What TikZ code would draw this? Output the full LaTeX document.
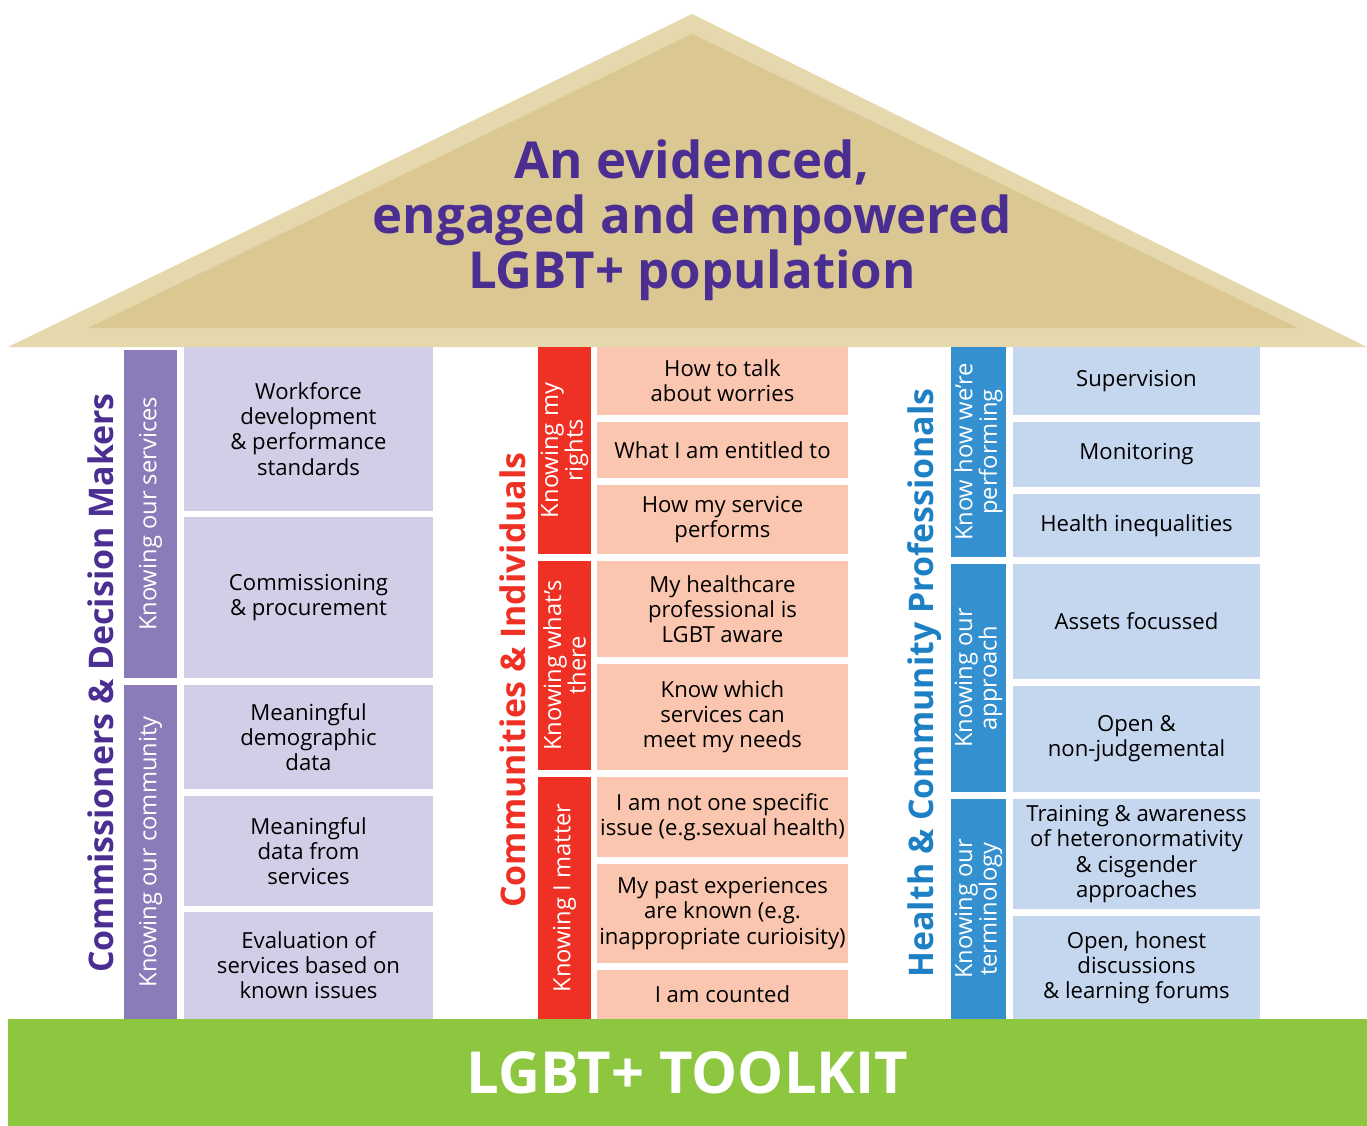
\documentclass[tikz,border=0pt]{standalone}
\usepackage{fontspec}
\setmainfont{Open Sans}
\usetikzlibrary{positioning}

\definecolor{roofOuter}{RGB}{230,216,173}
\definecolor{roofInner}{RGB}{219,199,146}
\definecolor{goalPurple}{RGB}{75,46,145}
\definecolor{cmStrip}{RGB}{140,123,185}
\definecolor{cmLight}{RGB}{211,206,231}
\definecolor{ciRed}{RGB}{238,49,36}
\definecolor{ciLight}{RGB}{250,198,175}
\definecolor{hpStrip}{RGB}{52,144,207}
\definecolor{hpText}{RGB}{30,128,196}
\definecolor{hpLight}{RGB}{197,215,239}
\definecolor{toolkitGreen}{RGB}{141,198,63}

\begin{document}
\begin{tikzpicture}[
  x=0.02cm, y=-0.02cm,
  every node/.style={font=\fontsize{12.6}{14.3}\selectfont, inner sep=0pt},
  wd/.style={minimum width=#1*0.02cm},
  ht/.style={minimum height=#1*0.02cm},
  cell/.style={align=center, text=black},
  cmcell/.style={cell, fill=cmLight, wd=249},
  cicell/.style={cell, fill=ciLight, wd=251},
  hpcell/.style={cell, fill=hpLight, wd=247},
  strip/.style={rotate=90, align=center, text=white,
                font=\fontsize{13.5}{14}\selectfont},
  cmstrip/.style={strip, fill=cmStrip, ht=53},
  cistrip/.style={strip, fill=ciRed, ht=53},
  hpstrip/.style={strip, fill=hpStrip, ht=55},
  pillar/.style={rotate=90, font=\fontsize{19.3}{22}\selectfont\bfseries},
]
  \useasboundingbox (0,0) rectangle (1367,1126);

  % roof
  \fill[roofOuter] (8,347) -- (692,14) -- (1367,347) -- cycle;
  \fill[roofInner] (88,328) -- (692,34) -- (1298,328) -- cycle;
  \node[align=center, text=goalPurple,
        font=\fontsize{29}{31.2}\selectfont\bfseries] (goal) at (692,220)
    {An evidenced,\\engaged and empowered\\LGBT+ population};

  % Commissioners & Decision Makers
  \node[pillar, text=goalPurple] (cm) at (101,683)
    {Commissioners \& Decision Makers};
  \node[cmstrip, wd=328] (services) at (150.5,514) {Knowing our services};
  \node[cmstrip, wd=334] (community) at (150.5,852) {Knowing our community};
  \node[cmcell, ht=164] (workforce) at (308.5,429)
    {Workforce\\development\\\& performance\\standards};
  \node[cmcell, ht=161] (commissioning) at (308.5,597.5)
    {Commissioning\\\& procurement};
  \node[cmcell, ht=104] (demographic) at (308.5,737)
    {Meaningful\\demographic\\data};
  \node[cmcell, ht=110] (servicedata) at (308.5,851)
    {Meaningful\\data from\\services};
  \node[cmcell, ht=107] (evaluation) at (308.5,965.5)
    {Evaluation of\\services based on\\known issues};

  % Communities & Individuals
  \node[pillar, text=ciRed] (ci) at (513,680) {Communities \& Individuals};
  \node[cistrip, wd=207] (rights) at (564.5,450.5) {Knowing my\\rights};
  \node[cistrip, wd=209] (there) at (564.5,665.5) {Knowing what’s\\there};
  \node[cistrip, wd=242] (matter) at (564.5,898) {Knowing I matter};
  \node[cicell, ht=68] (worries) at (722.5,381) {How to talk\\about worries};
  \node[cicell, ht=56] (entitled) at (722.5,450) {What I am entitled to};
  \node[cicell, ht=69] (performs) at (722.5,519.5)
    {How my service\\performs};
  \node[cicell, ht=96] (aware) at (722.5,609)
    {My healthcare\\professional is\\LGBT aware};
  \node[cicell, ht=106] (needs) at (722.5,717)
    {Know which\\services can\\meet my needs};
  \node[cicell, ht=80] (issue) at (722.5,817)
    {I am not one specific\\issue (e.g.sexual health)};
  \node[cicell, ht=99] (past) at (722.5,913.5)
    {My past experiences\\are known (e.g.\\inappropriate curioisity)};
  \node[cicell, ht=49] (counted) at (722.5,994.5) {I am counted};

  % Health & Community Professionals
  \node[pillar, text=hpText] (hp) at (925,683)
    {Health \& Community Professionals};
  \node[hpstrip, wd=210] (performing) at (978.5,452)
    {Know how we’re\\performing};
  \node[hpstrip, wd=228] (approach) at (978.5,678)
    {Knowing our\\approach};
  \node[hpstrip, wd=220] (terminology) at (978.5,909)
    {Knowing our\\terminology};
  \node[hpcell, ht=68] (supervision) at (1136.5,381) {Supervision};
  \node[hpcell, ht=65] (monitoring) at (1136.5,454.5) {Monitoring};
  \node[hpcell, ht=63] (inequalities) at (1136.5,525.5)
    {Health inequalities};
  \node[hpcell, ht=115] (assets) at (1136.5,621.5) {Assets focussed};
  \node[hpcell, ht=106] (open) at (1136.5,739)
    {Open \&\\non-judgemental};
  \node[hpcell, ht=110] (training) at (1136.5,854)
    {Training \& awareness\\of heteronormativity\\\& cisgender\\approaches};
  \node[hpcell, ht=103] (forums) at (1136.5,967.5)
    {Open, honest\\discussions\\\& learning forums};

  % foundation
  \node[fill=toolkitGreen, wd=1359, ht=107, text=white,
        font=\fontsize{33}{36}\selectfont\bfseries] (toolkit) at (687.5,1072.5)
    {LGBT+ TOOLKIT};
\end{tikzpicture}
\end{document}
